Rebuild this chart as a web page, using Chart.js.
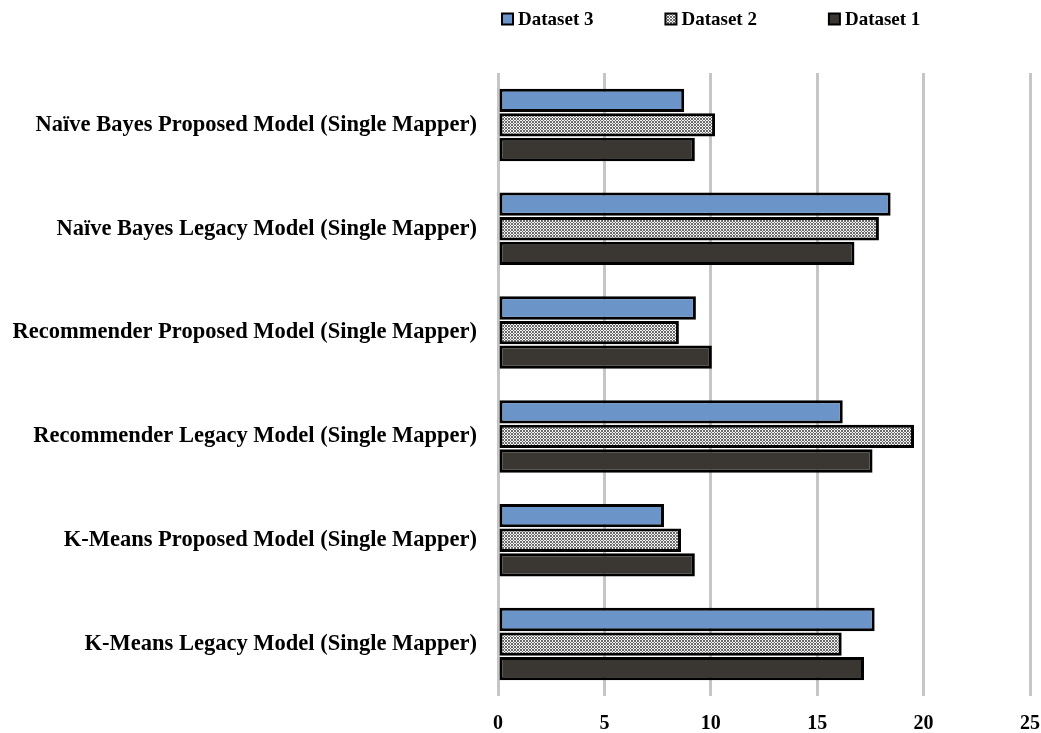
<!DOCTYPE html>
<html>
<head>
<meta charset="utf-8">
<script src="https://cdn.jsdelivr.net/npm/chart.js@4/dist/chart.umd.min.js"></script>
<style>
  html, body { margin: 0; padding: 0; background: #fff; overflow: hidden; }
  #wrap { width: 1041px; height: 733px; position: relative; }
  canvas { display: block; }
</style>
</head>
<body>
<div id="wrap"><canvas id="barChart"></canvas></div>
<script>
// ── Data ── //
const categories = [
  'Naïve Bayes Proposed Model (Single Mapper)',
  'Naïve Bayes Legacy Model (Single Mapper)',
  'Recommender Proposed Model (Single Mapper)',
  'Recommender Legacy Model (Single Mapper)',
  'K-Means Proposed Model (Single Mapper)',
  'K-Means Legacy Model (Single Mapper)',
];
const dataset3 = [8.75, 18.45, 9.3, 16.2, 7.8, 17.7];
const dataset2 = [10.2, 17.9, 8.5, 19.55, 8.6, 16.15];
const dataset1 = [9.25, 16.75, 10.05, 17.6, 9.25, 17.2];
const xTicks = [0, 5, 10, 15, 20, 25];

const SERIF = "'Liberation Serif', 'Times New Roman', serif";

// ── Crosshatch pattern for Dataset 2 ── //
function makeHatch() {
  const c = document.createElement('canvas');
  c.width = 6; c.height = 6;
  const g = c.getContext('2d');
  g.fillStyle = '#f4f4f4';
  g.fillRect(0, 0, 6, 6);
  g.fillStyle = '#6a6a6a';
  for (let x = 0; x < 6; x++) {
    for (let y = 0; y < 6; y++) {
      if ((x + y) % 3 === 0 || (x - y + 6) % 3 === 0) g.fillRect(x, y, 1, 1);
    }
  }
  return g.createPattern(c, 'repeat');
}
const hatch = makeHatch();

// ── Legend drawn above the plot, aligned to the chart area ── //
const topLegend = {
  id: 'topLegend',
  afterDraw(chart) {
    const { ctx, chartArea } = chart;
    ctx.save();
    ctx.font = `bold 19px ${SERIF}`;
    ctx.textBaseline = 'middle';
    ctx.textAlign = 'left';
    let x = chartArea.left + 4;
    const y = 19;
    chart.data.datasets.forEach(ds => {
      ctx.fillStyle = ds.backgroundColor;
      ctx.fillRect(x, y - 5.5, 11, 11);
      ctx.lineWidth = 2;
      ctx.strokeStyle = '#000';
      ctx.strokeRect(x, y - 5.5, 11, 11);
      ctx.fillStyle = '#000';
      ctx.fillText(ds.label, x + 16, y + 1);
      x += 16 + ctx.measureText(ds.label).width + 72;
    });
    ctx.restore();
  },
};

new Chart(document.getElementById('barChart'), {
  type: 'bar',
  data: {
    labels: categories,
    datasets: [
      { label: 'Dataset 3', data: dataset3, backgroundColor: '#6b94c9' },
      { label: 'Dataset 2', data: dataset2, backgroundColor: hatch },
      { label: 'Dataset 1', data: dataset1, backgroundColor: '#3a3631' },
    ].map(d => Object.assign(d, {
      borderColor: '#000',
      borderWidth: 3,
      borderSkipped: false,
      categoryPercentage: 0.71,
      barPercentage: 0.95,
    })),
  },
  options: {
    indexAxis: 'y',
    responsive: true,
    maintainAspectRatio: false,
    animation: false,
    layout: { padding: { top: 73, right: 11, left: 0, bottom: 0 } },
    plugins: {
      legend: { display: false },
      tooltip: { enabled: false },
    },
    scales: {
      x: {
        min: 0,
        max: 25,
        afterBuildTicks: (scale) => { scale.ticks = xTicks.map(v => ({ value: v })); },
        afterFit: (scale) => {
          scale.height = 37;
          scale.paddingLeft = 0;
          scale.paddingRight = 0;
        },
        grid: { color: '#c6c6c6', lineWidth: 3, drawTicks: false },
        border: { display: false },
        ticks: {
          color: '#000',
          padding: 16,
          font: { family: SERIF, size: 20, weight: 'bold' },
        },
      },
      y: {
        afterFit: (scale) => { scale.width = 498; },
        grid: { display: false },
        border: { display: false },
        ticks: {
          color: '#000',
          padding: 13,
          font: { family: SERIF, size: 22.5, weight: 'bold' },
        },
      },
    },
  },
  plugins: [topLegend],
});
</script>
</body>
</html>
